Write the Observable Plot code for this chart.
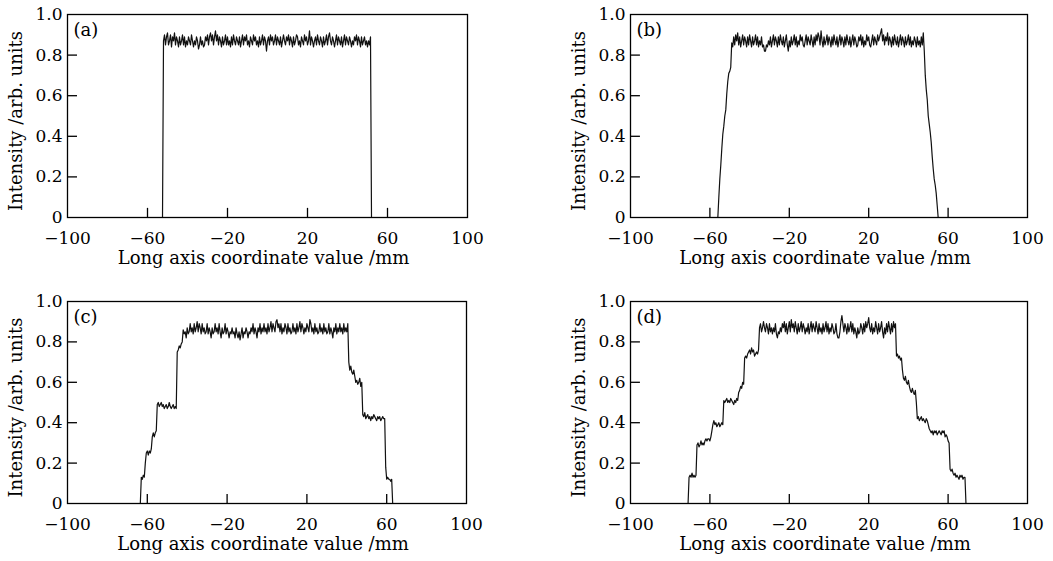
<!DOCTYPE html>
<html><head><meta charset="utf-8">
<script src="https://cdn.jsdelivr.net/npm/d3@7"></script>
<script src="https://cdn.jsdelivr.net/npm/@observablehq/plot@0.6"></script>
<style>
body{margin:0;background:#fff;}
#fig{position:relative;width:1053px;height:561px;overflow:hidden;background:#fff;}
#fig svg{position:absolute;}
</style></head><body><div id="fig"></div>
<script>
// ---- text & ticks ----
const xTicks = [-100, -60, -20, 20, 60, 100];
const yTicks = [0, 0.2, 0.4, 0.6, 0.8, 1.0];
const panelLabels = ["(a)", "(b)", "(c)", "(d)"];
const xLabel = "Long axis coordinate value /mm";
const yLabel = "Intensity /arb. units";
const sampleStep = 0.5; // mm between samples

// ---- panel (a) ----
const startA = -52.5;
const leftA = [0];
const plateauA = [
.87,.90,.85,.89,.91,.85,.87,.90,.84,.89,.87,.91,.85,.89,.87,.84,
.89,.85,.87,.90,.85,.89,.84,.87,.85,.89,.87,.85,.90,.87,.84,.87,
.85,.89,.87,.83,.85,.89,.85,.87,.84,.85,.89,.87,.90,.85,.89,.91,
.87,.90,.85,.89,.92,.87,.90,.85,.89,.87,.84,.89,.85,.87,.90,.85,
.89,.85,.87,.84,.89,.85,.90,.87,.85,.89,.87,.85,.89,.84,.87,.90,
.85,.89,.87,.90,.85,.87,.84,.89,.87,.85,.90,.87,.89,.85,.87,.84,
.89,.85,.87,.90,.85,.89,.87,.82,.87,.89,.85,.90,.87,.89,.85,.87,
.90,.85,.89,.87,.85,.89,.84,.87,.90,.87,.85,.89,.87,.90,.85,.89,
.87,.84,.89,.85,.87,.90,.89,.85,.87,.84,.89,.87,.85,.90,.87,.89,
.85,.87,.92,.85,.89,.87,.84,.87,.89,.85,.90,.87,.85,.89,.87,.84,
.89,.85,.87,.90,.85,.89,.91,.87,.85,.89,.87,.84,.87,.90,.85,.89,
.87,.85,.89,.84,.87,.90,.85,.89,.87,.85,.89,.87,.84,.87,.85,.89,
.87,.90,.85,.89,.87,.84,.89,.85,.87,.89,.85,.87,.84,.87,.85,.89];
const rightA = [0];

// ---- panel (b) ----
const startB = -56;
const leftB = [0,.1,.19,.26,.34,.41,.45,.5,.53,.61,.67,.71,.72,.74,.86];
const plateauB = [
.84,.89,.85,.90,.87,.91,.85,.89,.84,.87,.90,.85,.89,.87,.84,.89,
.85,.90,.87,.84,.89,.85,.87,.90,.85,.89,.84,.87,.85,.89,.84,.85,
.82,.82,.85,.84,.87,.85,.89,.84,.87,.90,.85,.89,.87,.84,.89,.85,
.90,.87,.85,.89,.84,.87,.90,.85,.82,.87,.84,.89,.85,.87,.90,.85,
.89,.84,.87,.85,.90,.87,.89,.85,.84,.87,.90,.85,.89,.87,.85,.90,
.87,.84,.89,.85,.90,.87,.91,.89,.85,.92,.87,.84,.89,.85,.87,.90,
.85,.89,.87,.84,.89,.85,.90,.87,.85,.89,.84,.87,.90,.85,.89,.87,
.84,.89,.85,.90,.87,.85,.89,.84,.87,.90,.85,.89,.87,.84,.85,.89,
.87,.90,.85,.89,.84,.87,.85,.90,.87,.89,.85,.84,.87,.90,.85,.89,
.87,.85,.90,.87,.89,.91,.93,.87,.90,.85,.89,.87,.91,.85,.89,.87,
.84,.89,.85,.90,.87,.85,.89,.84,.87,.90,.85,.89,.87,.84,.89,.85,
.87,.90,.85,.89,.84,.87,.85,.89,.87,.84,.89,.85,.87,.84,.89,.85,
.91];
const rightB = [.82,.7,.63,.58,.5,.46,.42,.37,.3,.24,.19,.16,.12,.06,0];

// ---- panel (c) ----
const startC = -63.5;
const leftC = [0,.13,.12,.14,.13,.2,.25,.26,.24,.26,.25,.27,.33,.35,.33,.35,.36,
.49,.5,.48,.49,.5,.48,.49,.47,.48,.49,.47,.48,.5,.48,.47,.48,.49,.47,.48,.47,
.75,.76,.78,.77,.79,.8,.86];
const plateauC = [
.84,.85,.82,.87,.84,.85,.89,.85,.87,.84,.89,.85,.87,.90,.85,.89,
.87,.84,.89,.85,.87,.84,.85,.89,.84,.87,.85,.82,.87,.84,.85,.89,
.85,.87,.84,.89,.85,.82,.87,.84,.85,.89,.84,.87,.85,.82,.85,.84,
.87,.84,.85,.82,.87,.84,.82,.85,.81,.84,.87,.82,.85,.84,.87,.85,
.82,.85,.84,.87,.85,.89,.84,.87,.85,.82,.87,.85,.89,.84,.87,.85,
.89,.85,.87,.84,.89,.85,.87,.90,.85,.89,.87,.85,.90,.91,.87,.89,
.85,.89,.84,.87,.85,.89,.87,.84,.89,.85,.87,.84,.85,.89,.85,.87,
.84,.89,.85,.87,.90,.85,.89,.87,.84,.87,.85,.89,.87,.85,.91,.89,
.85,.87,.84,.89,.85,.87,.84,.85,.89,.85,.87,.84,.89,.85,.87,.84,
.85,.89,.84,.87,.85,.82,.87,.85,.89,.84,.87,.85,.89,.85,.87,.84,
.89,.85,.87,.85,.89];
const rightC = [.7,.66,.68,.65,.64,.66,.63,.6,.61,.59,.6,.62,.58,.6,
.44,.43,.45,.42,.43,.44,.42,.43,.41,.43,.42,.44,.43,.42,.41,.43,.42,.43,.41,.42,.43,.42,.42,
.18,.12,.13,.12,.12,.11,.12,0];

// ---- panel (d) ----
const startD = -71;
const leftD = [0,.13,.14,.13,.15,.13,.14,.13,.14,
.29,.3,.28,.29,.31,.29,.3,.29,.31,.32,.31,.32,.32,.31,.33,.36,
.39,.41,.39,.4,.38,.39,.4,.38,.39,.4,.39,
.51,.5,.51,.52,.5,.51,.5,.52,.51,.5,.49,.51,.5,.52,.51,
.55,.56,.58,.57,.6,.59,
.72,.73,.72,.74,.75,.76,.74,.77,.75,.76,.73,.74,.75,.74,.76,.87];
const plateauD = [
.89,.85,.87,.90,.87,.85,.89,.87,.84,.89,.85,.87,.84,.87,.85,.89,
.84,.82,.85,.84,.87,.85,.89,.87,.90,.85,.89,.84,.87,.90,.85,.91,
.87,.89,.85,.90,.87,.84,.89,.85,.87,.90,.85,.89,.87,.84,.87,.85,
.89,.84,.87,.90,.85,.89,.87,.85,.90,.87,.84,.89,.85,.87,.84,.89,
.85,.87,.90,.85,.89,.84,.87,.85,.89,.87,.84,.85,.89,.84,.82,.82,
.85,.90,.93,.89,.85,.89,.87,.84,.89,.85,.87,.90,.85,.89,.84,.87,
.85,.82,.87,.84,.85,.89,.87,.84,.89,.85,.90,.87,.89,.92,.87,.85,
.89,.84,.87,.85,.90,.87,.84,.89,.85,.87,.90,.85,.82,.87,.84,.89,
.85,.90,.87,.84,.89,.85,.90,.87,.89];
const rightD = [.73,.74,.72,.73,.71,.72,.66,.62,.61,.63,.6,.59,.61,.58,.56,.55,.57,.55,.54,.56,.5,
.42,.43,.41,.42,.43,.41,.42,.41,.4,.42,.41,.39,
.37,.36,.35,.36,.34,.36,.35,.36,.34,.35,.36,.35,.34,.36,.35,.36,.33,.34,.33,.31,.3,
.17,.16,.17,.15,.14,.15,.13,.14,.13,.12,.14,.13,.14,.12,.13,.13,0];

function series(start, left, plateau, right) {
  const ys = [...left, ...plateau, ...right];
  return ys.map((y, i) => ({x: start + i * sampleStep, y}));
}

const panels = [
  {label: panelLabels[0], data: series(startA, leftA, plateauA, rightA), left: 0,   top: 0,   ml: 67, mr: 53, mt: 14, mb: 63},
  {label: panelLabels[1], data: series(startB, leftB, plateauB, rightB), left: 550, top: 0,   ml: 80, mr: 43, mt: 14, mb: 63},
  {label: panelLabels[2], data: series(startC, leftC, plateauC, rightC), left: 0,   top: 287, ml: 67, mr: 54, mt: 14, mb: 64},
  {label: panelLabels[3], data: series(startD, leftD, plateauD, rightD), left: 550, top: 287, ml: 80, mr: 43, mt: 14, mb: 64}
];

const FONT = "DejaVu Serif";
const fig = document.getElementById("fig");
for (const p of panels) {
  const chart = Plot.plot({
    width: 520, height: 280,
    marginLeft: p.ml, marginRight: p.mr, marginTop: p.mt, marginBottom: p.mb,
    style: {fontFamily: FONT, fontSize: "17px", color: "#000", background: "transparent", overflow: "visible"},
    x: {domain: [-100, 100]},
    y: {domain: [0, 1]},
    marks: [
      Plot.line(p.data, {x: "x", y: "y", stroke: "#111", strokeWidth: 1.2}),
      Plot.ruleX(xTicks.slice(1, -1), {y1: 0, y2: 0.045, stroke: "#000", strokeWidth: 1.3}),
      Plot.ruleY(yTicks.slice(1, -1), {x1: -100, x2: -95, stroke: "#000", strokeWidth: 1.3}),
      Plot.frame({stroke: "#000", strokeWidth: 1.3}),
      Plot.axisX({ticks: xTicks, tickSize: 0, tickPadding: 14, label: null, fontSize: 17, fontFamily: FONT}),
      Plot.axisY({ticks: yTicks, tickSize: 0, tickPadding: 5, label: null, fontSize: 17, fontFamily: FONT,
                  tickFormat: d => d === 0 ? "0" : d.toFixed(1)}),
      Plot.text([p.label], {frameAnchor: "top-left", dx: 6, dy: 9, lineAnchor: "top", textAnchor: "start", fontSize: 18, fontFamily: FONT}),
      Plot.text([xLabel], {frameAnchor: "bottom", dx: -4, dy: 34, lineAnchor: "top", textAnchor: "middle", fontSize: 18, fontFamily: FONT}),
      Plot.text([yLabel], {frameAnchor: "left", rotate: -90, dx: -51, dy: 5, lineAnchor: "middle", textAnchor: "middle", fontSize: 18, fontFamily: FONT})
    ]
  });
  chart.style.left = p.left + "px";
  chart.style.top = p.top + "px";
  fig.appendChild(chart);
}
</script></body></html>
